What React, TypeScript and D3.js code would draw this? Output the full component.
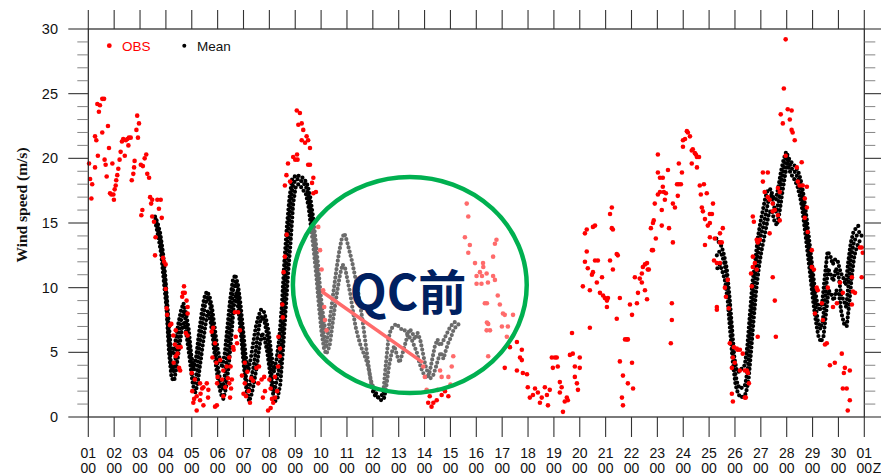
import { useMemo } from 'react';
import * as d3 from 'd3';

// tick labels
const DAY_LABELS = ['01', '02', '03', '04', '05', '06', '07', '08', '09', '10', '11', '12', '13', '14', '15',
  '16', '17', '18', '19', '20', '21', '22', '23', '24', '25', '26', '27', '28', '29', '30', '01'];
const Y_TICKS = [0, 5, 10, 15, 20, 25, 30];

// OBS: [day since 01 00Z, wind speed m/s]
const obsDays01to04: [number, number][] = [
  [0.03, 19.6], [0.07, 18.4], [0.12, 16.9], [0.15, 18.0], [0.26, 21.7], [0.31, 21.4], [0.26, 19.3], [0.37, 20.2],
  [0.35, 24.2], [0.45, 24.1], [0.41, 23.6], [0.54, 24.6], [0.61, 24.6], [0.54, 22.0], [0.63, 19.9], [0.67, 19.5],
  [0.71, 18.6], [0.76, 22.5], [0.8, 20.8], [0.84, 17.3], [0.89, 17.2], [0.93, 19.6], [0.97, 17.2], [0.99, 16.8],
  [1.02, 17.6], [1.06, 17.9], [1.08, 18.3], [1.12, 18.7], [1.16, 19.2], [1.21, 19.9], [1.25, 20.5], [1.3, 21.3],
  [1.35, 21.5], [1.41, 20.2], [1.45, 21.4], [1.51, 21.5], [1.57, 21.6], [1.55, 21.0], [1.64, 21.6], [1.68, 18.3],
  [1.74, 18.8], [1.77, 19.3], [1.79, 19.8], [1.86, 22.2], [1.89, 23.3], [1.96, 22.7], [1.92, 21.6], [2.03, 19.5],
  [2.11, 19.4], [2.18, 20.0], [2.24, 20.3], [2.28, 18.8], [2.35, 18.5], [2.39, 17.0], [2.43, 16.5], [2.47, 16.8],
  [2.09, 16.0], [2.05, 15.6], [2.47, 15.5], [2.54, 15.1], [2.6, 13.9], [2.67, 16.8], [2.73, 16.1], [2.8, 16.8],
  [2.84, 15.4], [2.58, 12.5], [2.89, 12.3], [2.93, 12.0], [2.99, 11.8], [2.99, 9.9], [3.03, 8.4], [3.05, 7.9],
  [3.16, 7.1], [3.21, 7.2], [3.29, 6.3], [3.38, 6.7], [3.47, 5.4], [3.57, 5.4], [3.51, 3.8], [3.38, 4.7],
  [3.35, 5.6], [3.45, 4.9], [3.3, 4.2], [3.55, 3.6], [3.66, 9.6], [3.7, 10.1], [3.73, 9.6], [3.8, 9.0],
  [3.63, 9.3], [3.84, 8.0], [3.84, 8.5], [3.77, 6.5], [3.84, 6.3],
];
const obsDays05to09: [number, number][] = [
  [4.0, 3.4], [4.12, 2.9], [4.32, 2.6], [4.45, 2.3], [4.58, 2.6], [4.64, 2.1], [4.19, 1.6], [4.32, 1.3],
  [4.06, 1.1], [4.19, 0.5], [4.45, 0.9], [4.09, 1.4], [4.02, 2.0], [4.34, 1.8], [4.77, 6.6], [4.83, 6.9],
  [4.9, 5.7], [4.8, 4.6], [4.95, 4.2], [5.0, 3.1], [5.1, 4.4], [5.22, 3.6], [5.35, 3.9], [5.17, 2.9],
  [5.3, 2.3], [5.45, 2.6], [5.55, 2.9], [4.97, 0.9], [5.22, 1.6], [4.9, 0.8], [4.98, 2.6], [4.63, 1.5],
  [4.4, 2.2], [5.67, 8.1], [5.79, 8.1], [5.6, 5.4], [5.7, 6.2], [5.75, 5.7], [5.86, 6.7], [5.62, 5.2],
  [5.45, 4.6], [5.5, 3.9], [5.4, 3.0], [5.48, 1.5], [5.52, 2.2], [5.94, 3.2], [6.05, 2.6], [6.15, 3.5],
  [6.3, 3.0], [6.37, 2.8], [6.05, 4.2], [6.2, 2.0], [6.1, 1.6], [6.25, 1.1], [6.0, 1.8], [6.5, 3.8],
  [6.6, 3.9], [6.7, 2.9], [6.8, 3.1], [6.57, 2.6], [6.83, 2.0], [6.75, 1.5], [7.0, 2.9], [7.05, 2.2],
  [7.1, 1.4], [7.05, 0.7], [6.95, 0.5], [7.15, 1.1], [7.22, 3.1], [7.22, 1.5], [7.3, 2.0], [7.34, 3.9],
  [7.41, 5.3], [7.35, 6.2], [7.4, 4.7], [7.5, 8.7], [7.52, 7.7], [7.55, 11.2], [7.6, 12.4], [7.67, 14.1],
  [7.6, 17.9], [7.66, 18.7], [7.72, 19.6], [7.8, 18.2], [7.92, 20.1], [8.07, 20.3], [8.0, 19.9], [8.06, 23.7],
  [8.18, 23.5], [8.25, 22.7], [8.12, 22.6], [8.31, 22.2], [8.38, 21.2], [8.44, 21.7], [8.5, 21.4], [8.57, 20.8],
  [8.25, 21.4], [8.09, 19.9], [8.5, 19.5], [8.57, 19.5], [8.65, 18.1], [8.7, 18.5], [8.7, 17.3], [8.8, 17.4],
  [8.89, 14.7], [8.96, 12.9], [9.02, 11.4], [9.08, 9.8], [9.12, 8.5], [9.15, 7.5], [9.21, 6.7],
];
const obsDays13to16: [number, number][] = [
  [12.95, 3.9], [13.01, 3.1], [13.08, 2.1], [13.2, 1.6], [13.34, 1.1], [13.47, 1.3], [13.66, 1.7], [13.79, 2.0],
  [13.92, 1.6], [13.14, 1.1], [13.27, 0.8], [13.66, 3.1], [13.92, 3.1], [14.05, 3.9], [14.11, 4.7], [13.5, 2.1],
  [13.6, 3.6], [14.0, 2.5], [14.63, 16.5], [14.69, 15.5], [14.56, 13.9], [14.75, 13.3], [14.69, 12.7], [14.95, 11.9],
  [15.14, 11.2], [15.2, 10.3], [15.01, 10.3], [15.33, 8.8], [15.46, 7.2], [15.4, 6.7], [15.46, 4.7], [15.27, 11.6],
  [15.01, 10.9], [15.4, 11.1], [15.65, 10.9], [15.78, 13.7],
];
const obsDays16to21: [number, number][] = [
  [15.72, 13.4], [15.65, 12.4], [15.26, 11.9], [15.22, 10.9], [15.45, 10.4], [15.72, 10.6], [15.83, 9.4], [15.41, 8.8],
  [15.91, 8.7], [16.03, 8.0], [16.42, 7.9], [16.1, 7.9], [15.41, 7.3], [15.53, 6.7], [15.99, 7.0], [16.22, 7.0],
  [16.18, 6.2], [16.3, 5.4], [16.57, 5.8], [16.76, 5.2], [16.69, 4.6], [16.76, 4.4], [16.1, 3.8], [16.57, 3.6],
  [16.8, 3.4], [16.96, 3.3], [16.99, 2.3], [17.27, 2.2], [17.07, 1.5], [17.19, 1.7], [17.38, 1.9], [17.53, 1.5],
  [17.46, 1.1], [17.73, 1.7], [17.65, 2.3], [17.84, 2.1], [17.77, 0.9], [18.23, 2.7], [18.3, 2.3], [18.23, 1.9],
  [17.92, 4.6], [17.96, 3.8], [18.11, 4.6], [18.15, 3.9], [18.04, 4.6], [18.35, 0.4], [18.5, 1.5], [18.42, 1.2],
  [18.54, 1.3], [18.7, 6.5], [18.62, 4.8], [18.73, 4.9], [19.0, 4.6], [18.81, 3.9], [19.0, 3.8], [18.81, 3.1],
  [18.89, 2.6], [18.93, 2.1], [19.39, 6.9], [19.12, 10.1], [19.39, 9.8], [19.2, 12.0], [19.27, 12.8], [19.2, 14.2],
  [19.27, 14.5], [19.51, 14.7], [19.59, 14.8], [19.31, 11.5], [19.51, 11.2], [19.47, 11.0], [19.59, 12.1], [19.7, 12.1],
  [19.66, 10.4], [19.86, 10.8], [19.78, 9.6], [19.9, 9.4], [19.97, 9.2], [20.05, 9.0], [20.09, 9.2], [20.05, 8.5],
  [20.17, 12.1], [20.28, 11.4], [20.24, 14.6], [20.17, 15.7], [20.24, 16.2], [20.28, 14.5], [20.43, 12.6], [20.47, 12.5],
  [20.43, 7.6], [20.55, 9.2], [20.55, 4.3], [20.67, 3.2], [20.63, 1.5], [20.67, 0.9], [20.75, 6.0], [20.82, 6.0],
  [20.86, 6.0], [20.86, 2.6], [21.02, 4.2], [21.06, 2.2], [20.94, 8.7], [21.02, 7.9], [21.13, 10.8], [21.21, 8.8],
  [21.25, 9.6], [21.32, 10.7], [21.4, 10.4], [21.4, 11.1], [21.44, 11.6], [21.52, 11.8], [21.6, 11.9], [21.63, 11.4],
  [21.6, 9.1], [21.52, 9.8],
];
const obsDays22to26: [number, number][] = [
  [21.67, 11.4], [21.79, 12.9], [21.83, 12.9], [21.75, 14.6], [21.83, 15.0], [21.94, 13.8], [21.86, 15.2], [21.9, 16.5],
  [22.02, 17.2], [22.1, 17.4], [22.1, 18.5], [22.02, 18.9], [22.02, 20.3], [22.17, 16.0], [22.17, 14.8], [22.21, 17.8],
  [22.25, 17.4], [22.33, 17.3], [22.29, 16.8], [22.21, 18.5], [22.41, 19.1], [22.45, 14.6], [22.56, 8.8], [22.56, 7.5],
  [22.52, 5.7], [22.6, 13.5], [22.68, 16.2], [22.6, 16.5], [22.76, 18.0], [22.83, 18.0], [22.91, 18.0], [22.79, 17.1],
  [22.83, 19.6], [22.95, 18.9], [22.99, 20.9], [22.99, 21.4], [23.07, 21.5], [23.14, 22.1], [23.18, 22.0], [23.26, 21.7],
  [23.33, 20.6], [23.37, 20.7], [23.45, 20.4], [23.53, 20.1], [23.49, 20.3], [23.33, 19.6], [23.53, 19.3], [23.61, 20.1],
  [23.64, 17.9], [23.8, 18.0], [23.68, 17.2], [23.91, 17.3], [23.72, 16.2], [23.76, 15.9], [23.84, 15.3], [24.03, 15.7],
  [24.11, 15.7], [23.95, 14.8], [24.03, 15.0], [23.84, 13.3], [24.15, 16.5], [24.22, 13.8], [24.19, 12.1], [24.42, 14.2],
  [24.53, 14.6], [24.42, 13.5], [24.49, 13.5], [24.03, 13.9], [24.3, 11.9], [24.42, 11.9], [24.61, 10.0], [24.72, 10.6],
  [24.65, 9.3], [24.3, 8.5], [24.3, 8.3], [24.76, 8.4], [24.8, 5.7], [24.96, 5.4], [25.07, 5.3], [25.1, 5.2],
  [25.19, 5.2], [25.3, 4.9], [24.92, 4.6], [24.88, 3.8], [24.99, 4.2], [25.19, 3.6], [25.38, 3.6], [25.46, 3.6],
  [25.5, 3.4], [25.54, 2.6], [24.88, 1.8], [24.92, 1.2], [25.38, 1.5], [25.42, 1.5], [25.88, 6.2], [25.69, 11.6],
  [25.62, 11.1], [25.65, 10.1], [25.69, 12.4], [25.77, 11.9], [25.84, 13.7], [25.96, 13.7], [25.88, 13.5], [25.69, 15.5],
  [25.73, 15.1], [25.84, 11.4],
];
const obsDays27to30: [number, number][] = [
  [26.08, 18.9], [26.27, 18.9], [26.08, 18.2], [26.15, 17.4], [26.27, 17.0], [26.34, 16.8], [26.46, 16.5], [26.54, 16.0],
  [26.46, 15.9], [26.34, 14.2], [26.46, 10.8], [26.54, 9.0], [26.58, 6.2], [26.66, 17.7], [26.73, 17.4], [26.66, 15.6],
  [26.73, 15.2], [26.96, 29.2], [26.89, 25.4], [26.77, 23.4], [26.85, 22.7], [27.04, 23.8], [27.19, 23.7], [27.12, 23.0],
  [27.19, 22.2], [27.23, 22.0], [27.31, 21.4], [26.96, 20.2], [27.39, 19.3], [27.58, 19.7], [27.43, 18.2], [27.5, 17.9],
  [27.62, 17.9], [27.78, 17.8], [27.7, 16.9], [27.78, 16.2], [27.7, 15.4], [27.81, 14.3], [27.97, 12.9], [27.97, 11.6],
  [28.05, 11.4], [28.16, 10.0], [28.2, 9.8], [28.09, 8.0], [28.36, 8.8], [28.4, 7.5], [28.55, 5.7], [28.48, 5.6],
  [28.59, 10.0], [28.79, 8.5], [28.94, 8.8], [29.06, 10.4], [29.17, 9.6], [29.13, 4.9], [28.67, 4.0], [28.86, 4.2],
  [29.25, 3.8], [29.44, 3.6], [29.21, 3.4], [29.17, 2.2], [29.32, 2.2], [29.44, 1.3], [29.36, 0.5], [29.52, 10.8],
  [29.56, 9.7], [29.64, 9.6], [29.83, 13.1], [29.9, 13.1], [29.94, 12.7], [29.9, 10.8], [29.52, 8.7],
];

// Mean: traces sampled every 0.1 day
const MEAN_STEP = 0.1;
const meanSeg1Start = 2.6;
const meanSeg1Upper = [
  15.5, 15.0, 14.2, 12.8, 10.8, 8.0, 5.5, 4.8, 6.0, 7.2, 8.2, 8.8, 8.0, 6.8, 4.8, 3.6, 4.8, 6.5, 8.0, 9.2,
  9.7, 9.4, 8.5, 7.0, 5.5, 4.5, 3.8, 5.0, 7.0, 9.0, 10.5, 11.0, 10.3, 8.8, 6.8, 4.8, 3.5, 4.5, 5.8, 7.0,
  7.8, 8.3, 8.2, 7.5, 6.5, 4.8, 3.5, 4.5, 6.0, 8.5, 12.0, 14.8, 17.0, 18.4, 18.6, 18.7, 18.6, 18.5, 18.3, 17.9,
  17.0, 15.6, 13.8, 11.8, 9.5, 7.8, 6.5,
];
const meanSeg1Mid = [
  15.3, 14.5, 13.5, 11.8, 9.8, 6.5, 4.0, 3.5, 5.0, 6.5, 7.6, 8.2, 7.0, 5.5, 3.5, 2.5, 3.5, 5.5, 7.0, 8.5,
  9.3, 8.8, 7.2, 5.5, 4.0, 2.8, 2.2, 3.5, 5.5, 7.8, 9.8, 10.6, 9.5, 7.5, 5.0, 3.0, 2.0, 3.0, 4.0, 5.5,
  7.0, 7.8, 7.5, 6.5, 5.0, 3.0, 2.0, 3.0, 4.0, 6.5, 10.0, 13.2, 16.0, 17.8, 18.3, 18.4, 18.3, 18.1, 17.9, 17.2,
  16.0, 14.4, 12.4, 10.0, 8.0, 6.5, 5.5,
];
const meanSeg1Lower = [
  14.8, 13.8, 12.6, 10.5, 8.5, 5.0, 3.0, 2.8, 4.0, 5.5, 6.8, 7.4, 6.0, 4.5, 2.8, 1.8, 2.5, 4.0, 5.5, 7.0,
  8.2, 7.5, 6.0, 4.2, 2.8, 1.8, 1.4, 2.2, 3.8, 6.0, 8.5, 9.6, 8.0, 6.0, 3.8, 2.0, 1.2, 1.8, 2.8, 4.0,
  5.5, 6.5, 6.0, 5.0, 3.5, 2.0, 1.2, 1.5, 2.5, 5.0, 8.0, 11.0, 13.5, 16.5, 17.8, 18.0, 17.8, 17.5, 17.2, 16.2,
  14.5, 12.8, 10.8, 8.5, 6.5, 5.2, 4.8,
];
const meanSeg2Start = 9.2;
const meanSeg2A = [
  5.5, 7.0, 8.5, 10.0, 11.5, 12.8, 13.8, 14.2, 13.6, 12.8, 12.0, 11.0, 10.0, 8.8, 7.5, 6.0, 4.5, 3.0, 2.0, 1.6,
  1.5, 1.6, 1.8, 4.0, 6.0, 6.8, 7.0, 7.2, 7.0, 6.8, 6.8, 6.5, 6.2, 6.0, 5.5, 5.0, 4.2, 3.6, 3.2, 3.0,
  3.5, 4.5, 5.5, 6.0, 5.5, 5.8, 6.2, 6.6, 7.0, 7.2, 7.4, 7.5,
];
const meanSeg2B = [
  5.0, 5.5, 7.0, 8.5, 9.8, 11.0, 11.8, 11.5, 10.5, 9.5, 8.2, 7.0, 6.2, 5.5, 5.0, 4.5, 3.8, 2.8, 2.2, 1.8,
  1.4, 1.3, 1.4, 2.5, 4.0, 5.0, 5.5, 4.8, 4.2, 4.8, 5.5, 6.2, 6.8, 6.5, 6.0, 6.5, 6.0, 5.0, 4.0, 3.4,
  3.0, 3.2, 3.8, 4.5, 5.0, 4.5, 5.2, 5.8, 6.2, 6.8, 7.0, 7.2,
];
const meanSeg3Start = 24.3;
const meanSeg3Upper = [
  13.8, 13.5, 13.2, 12.5, 11.5, 9.5, 7.0, 4.5, 3.5, 3.5, 3.8, 4.0, 5.5, 8.0, 10.5, 12.0, 13.8, 15.0, 16.0, 17.0,
  17.6, 17.6, 17.0, 16.8, 17.8, 19.0, 19.9, 20.5, 20.0, 19.7, 19.5, 19.2, 18.8, 18.0, 16.8, 15.2, 13.5, 11.8, 10.0, 8.8,
  8.2, 9.0, 11.0, 12.8, 12.5, 11.8, 12.2, 12.0, 11.2, 10.8, 10.2, 12.0, 13.5, 14.3, 14.6, 14.8, 14.6,
];
const meanSeg3Mid = [
  12.5, 12.8, 12.5, 11.8, 10.5, 8.5, 5.5, 3.5, 2.5, 2.2, 2.3, 2.5, 3.8, 6.5, 9.0, 11.0, 12.8, 14.0, 14.8, 15.8,
  16.8, 17.2, 16.3, 15.8, 16.8, 18.2, 19.3, 20.2, 19.6, 19.2, 19.0, 18.6, 18.0, 17.0, 15.5, 14.0, 12.2, 10.5, 8.8, 7.5,
  6.8, 7.5, 9.5, 11.5, 11.0, 10.5, 11.5, 11.0, 9.5, 9.0, 8.5, 10.5, 12.5, 13.5, 14.0, 14.3, 14.0,
];
const meanSeg3Lower = [
  11.5, 11.8, 11.2, 10.5, 9.0, 6.5, 4.2, 2.5, 1.8, 1.5, 1.6, 1.8, 2.8, 5.0, 7.5, 9.8, 11.5, 12.8, 13.8, 14.8,
  15.8, 16.0, 15.2, 14.8, 15.8, 17.2, 18.5, 19.6, 19.0, 18.6, 18.3, 17.8, 17.0, 15.8, 14.2, 12.5, 10.8, 9.0, 7.5, 6.3,
  5.8, 6.2, 8.0, 9.8, 9.5, 9.0, 9.8, 9.5, 8.0, 7.2, 7.0, 8.8, 11.0, 12.5, 13.2, 13.6, 13.4,
];

// QC annotation (in data units)
const qcLine: [number, number][] = [[9.03, 9.7], [12.94, 4.2]];
const qcCircle = { day: 12.43, value: 10.2, rDays: 4.52, rValue: 8.35 };
const qcLabel = { day: 12.36, value: 8.3, text: 'QC前' };

const W = 881;
const H = 476;
const LEFT = 88.3;
const RIGHT = 864.3;
const TOP = 29;
const BOTTOM = 417;
const SANS = '"Liberation Sans", Arial, Helvetica, sans-serif';

export default function App() {
  const x = useMemo(() => d3.scaleLinear().domain([0, 30]).range([LEFT, RIGHT]), []);
  const y = useMemo(() => d3.scaleLinear().domain([0, 30]).range([BOTTOM, TOP]), []);

  const obs = [obsDays01to04, obsDays05to09, obsDays13to16, obsDays16to21, obsDays22to26, obsDays27to30].flat();

  const meanPaths = useMemo(() => {
    const traces = [
      { start: meanSeg1Start, shift: -0.02, values: meanSeg1Upper },
      { start: meanSeg1Start, shift: 0, values: meanSeg1Mid },
      { start: meanSeg1Start, shift: 0.02, values: meanSeg1Lower },
      { start: meanSeg2Start, shift: 0, values: meanSeg2A },
      { start: meanSeg2Start, shift: 0.03, values: meanSeg2B },
      { start: meanSeg3Start, shift: -0.02, values: meanSeg3Upper },
      { start: meanSeg3Start, shift: 0, values: meanSeg3Mid },
      { start: meanSeg3Start, shift: 0.02, values: meanSeg3Lower },
    ];
    return traces.map((t) =>
      d3
        .line<number>()
        .x((_, i) => x(t.start + t.shift + i * MEAN_STEP))
        .y((d) => y(d))(t.values) ?? ''
    );
  }, [x, y]);

  const minor = d3.range(0, 31).filter((v) => v % 5 !== 0);
  const dayTicks = d3.range(0, 31);

  const ex = x(qcCircle.day);
  const ey = y(qcCircle.value);
  const erx = x(qcCircle.day + qcCircle.rDays) - ex;
  const ery = ey - y(qcCircle.value + qcCircle.rValue);

  return (
    <svg width={W} height={H} style={{ position: 'absolute', left: 0, top: 0, background: '#fff' }}>
      {/* mean dots (dotted traces) */}
      <g>
        {meanPaths.map((d, i) => (
          <path key={i} d={d} fill="none" stroke="#000" strokeWidth={4.2} strokeDasharray="0 4.3" strokeLinecap="round" />
        ))}
      </g>
      {/* OBS dots */}
      <g fill="#ff0000">
        {obs.map(([d, v], i) => (
          <circle key={i} cx={x(d)} cy={y(v)} r={2.3} />
        ))}
      </g>

      {/* QC annotation */}
      <line x1={x(qcLine[0][0])} y1={y(qcLine[0][1])} x2={x(qcLine[1][0])} y2={y(qcLine[1][1])}
        stroke="#ff0000" strokeWidth={3.5} />
      <ellipse cx={ex} cy={ey} rx={erx} ry={ery} fill="rgba(255,255,255,0.42)" stroke="#00b050" strokeWidth={4.5} />
      <text x={x(qcLabel.day)} y={y(qcLabel.value)} textAnchor="middle" fill="#002060"
        fontFamily='"Noto Sans CJK SC", "Noto Sans", sans-serif' fontWeight="bold" fontSize={48}>
        {qcLabel.text}
      </text>

      {/* frame */}
      <rect x={LEFT} y={TOP} width={RIGHT - LEFT} height={BOTTOM - TOP} fill="none" stroke="#222" strokeWidth={1.2} />

      {/* y ticks left & right */}
      <g stroke="#333">
        {Y_TICKS.map((v) => (
          <g key={v}>
            <line x1={LEFT - 20} x2={LEFT} y1={y(v)} y2={y(v)} strokeWidth={1.1} />
            <line x1={RIGHT} x2={RIGHT + 20} y1={y(v)} y2={y(v)} strokeWidth={1.1} />
          </g>
        ))}
        {minor.map((v) => (
          <g key={v} stroke="#777">
            <line x1={LEFT - 11} x2={LEFT} y1={y(v)} y2={y(v)} strokeWidth={0.9} />
            <line x1={RIGHT} x2={RIGHT + 11} y1={y(v)} y2={y(v)} strokeWidth={0.9} />
          </g>
        ))}
      </g>
      <g fontFamily={SANS} fontSize={14.5} fill="#111" textAnchor="end">
        {Y_TICKS.map((v) => (
          <text key={v} x={58} y={y(v) + 5}>{v}</text>
        ))}
      </g>

      {/* x ticks top & bottom */}
      <g stroke="#333" strokeWidth={1.1}>
        {dayTicks.map((d) => (
          <g key={d}>
            <line x1={x(d)} x2={x(d)} y1={TOP - 19} y2={TOP} />
            <line x1={x(d)} x2={x(d)} y1={BOTTOM} y2={BOTTOM + 20} />
          </g>
        ))}
      </g>
      <g fontFamily={SANS} fontSize={14} fill="#111" textAnchor="middle">
        {dayTicks.map((d) => (
          <g key={d}>
            <text x={x(d)} y={458}>{DAY_LABELS[d]}</text>
            <text x={x(d)} y={473}>00</text>
          </g>
        ))}
        <text x={x(30) + 8.5} y={473} textAnchor="start">Z</text>
      </g>

      {/* y title */}
      <text transform={`translate(27,205) rotate(-90)`} textAnchor="middle"
        fontFamily='"Liberation Serif", "Times New Roman", serif' fontWeight="bold" fontSize={15.5} fill="#111">
        Wind speed (m/s)
      </text>

      {/* legend */}
      <circle cx={109.3} cy={45.7} r={2.4} fill="#ff0000" />
      <text x={122} y={51} fontFamily={SANS} fontSize={13.5} fill="#ff0000">OBS</text>
      <circle cx={184.3} cy={45.7} r={2} fill="#000" />
      <text x={197} y={51} fontFamily={SANS} fontSize={13.5} fill="#111">Mean</text>
    </svg>
  );
}
